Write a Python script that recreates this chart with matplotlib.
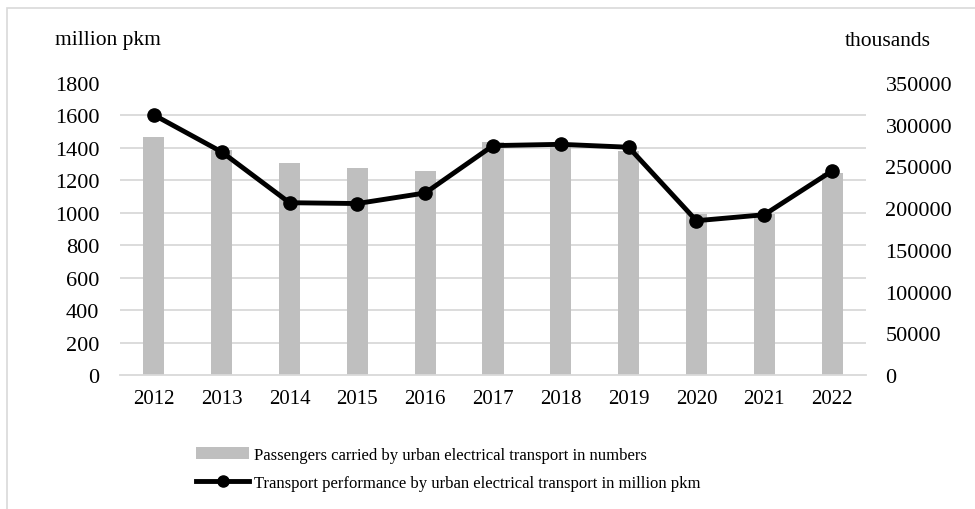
import numpy as np
import matplotlib
matplotlib.use('Agg')
import matplotlib.pyplot as plt
from matplotlib.patches import Rectangle, Patch
from matplotlib.lines import Line2D
from matplotlib.ticker import FixedLocator

plt.rcParams['font.family'] = ['Liberation Serif', 'DejaVu Serif']

# Data
years = ['2012', '2013', '2014', '2015', '2016', '2017', '2018', '2019', '2020', '2021', '2022']
passengers_thousands = [285700, 269700, 254500, 248100, 244500, 278900, 278500, 268900, 193500, 193000, 242500]
performance_mpkm = [1603, 1375, 1062, 1057, 1122, 1414, 1422, 1404, 951, 988, 1258]

bar_label = 'Passengers carried by urban electrical transport in numbers'
line_label = 'Transport performance by urban electrical transport in million pkm'

BAR_COLOR = '#bfbfbf'
GRID_COLOR = '#d9d9d9'
YFS = 16
XFS = 15

fig = plt.figure(figsize=(9.75, 5.1), dpi=100)

# light chart frame
fig.patches.append(Rectangle((7 / 975, -0.2), 2.0, 1.2 - 9 / 510, transform=fig.transFigure,
                             fill=False, edgecolor=GRID_COLOR, linewidth=1.2))

ax_bar = fig.add_axes([120 / 975, 1 - 376 / 510, 746 / 975, 292 / 510])
ax_line = ax_bar.twinx()

x = np.arange(len(years))

# bars on the right-hand (thousands) axis, drawn underneath
ax_bar.bar(x, passengers_thousands, width=0.31, color=BAR_COLOR, zorder=2)
ax_bar.set_ylim(0, 350000)
ax_bar.set_yticks(np.arange(0, 350001, 50000))
ax_bar.yaxis.tick_right()
# gridlines follow the left axis steps (0..1800 by 200)
ax_bar.yaxis.set_minor_locator(FixedLocator(np.linspace(0, 350000, 10)))
ax_bar.grid(which='minor', axis='y', color=GRID_COLOR, linewidth=1.3, zorder=0)
ax_bar.set_axisbelow(True)
ax_bar.tick_params(axis='y', which='both', length=0, labelsize=YFS, pad=14)
ax_bar.set_xlim(-0.5, len(years) - 0.5)
ax_bar.set_xticks(x)
ax_bar.set_xticklabels(years)
ax_bar.tick_params(axis='x', length=0, labelsize=XFS, pad=10)

# line on the left-hand (million pkm) axis, on top
ax_line.plot(x, performance_mpkm, color='black', linewidth=3.5, marker='o', markersize=9.5, zorder=3)
ax_line.set_ylim(0, 1800)
ax_line.set_yticks(np.arange(0, 1801, 200))
ax_line.yaxis.tick_left()
ax_line.tick_params(axis='y', length=0, labelsize=YFS, pad=15)

for a in (ax_bar, ax_line):
    for s in a.spines.values():
        s.set_visible(False)
ax_bar.spines['bottom'].set_visible(True)
ax_bar.spines['bottom'].set_color(GRID_COLOR)
ax_bar.spines['bottom'].set_linewidth(1.3)

ax_line.set_zorder(ax_bar.get_zorder() + 1)
ax_line.patch.set_visible(False)

fig.text(55 / 975, 1 - 41 / 510, 'million pkm', fontsize=15.5, ha='left', va='center')
fig.text(845 / 975, 1 - 42 / 510, 'thousands', fontsize=15.5, ha='left', va='center')

handles = [Patch(facecolor=BAR_COLOR, edgecolor='none'),
           Line2D([], [], color='black', linewidth=3.5, marker='o', markersize=8)]
fig.legend(handles, [bar_label, line_label], loc='upper left',
           bbox_to_anchor=(196 / 975, 1 - 448 / 510), frameon=False, fontsize=12,
           handlelength=3.2, handleheight=0.75, handletextpad=0.3, labelspacing=0.7,
           borderaxespad=0, borderpad=0)

fig.savefig('out.png', dpi=100)
